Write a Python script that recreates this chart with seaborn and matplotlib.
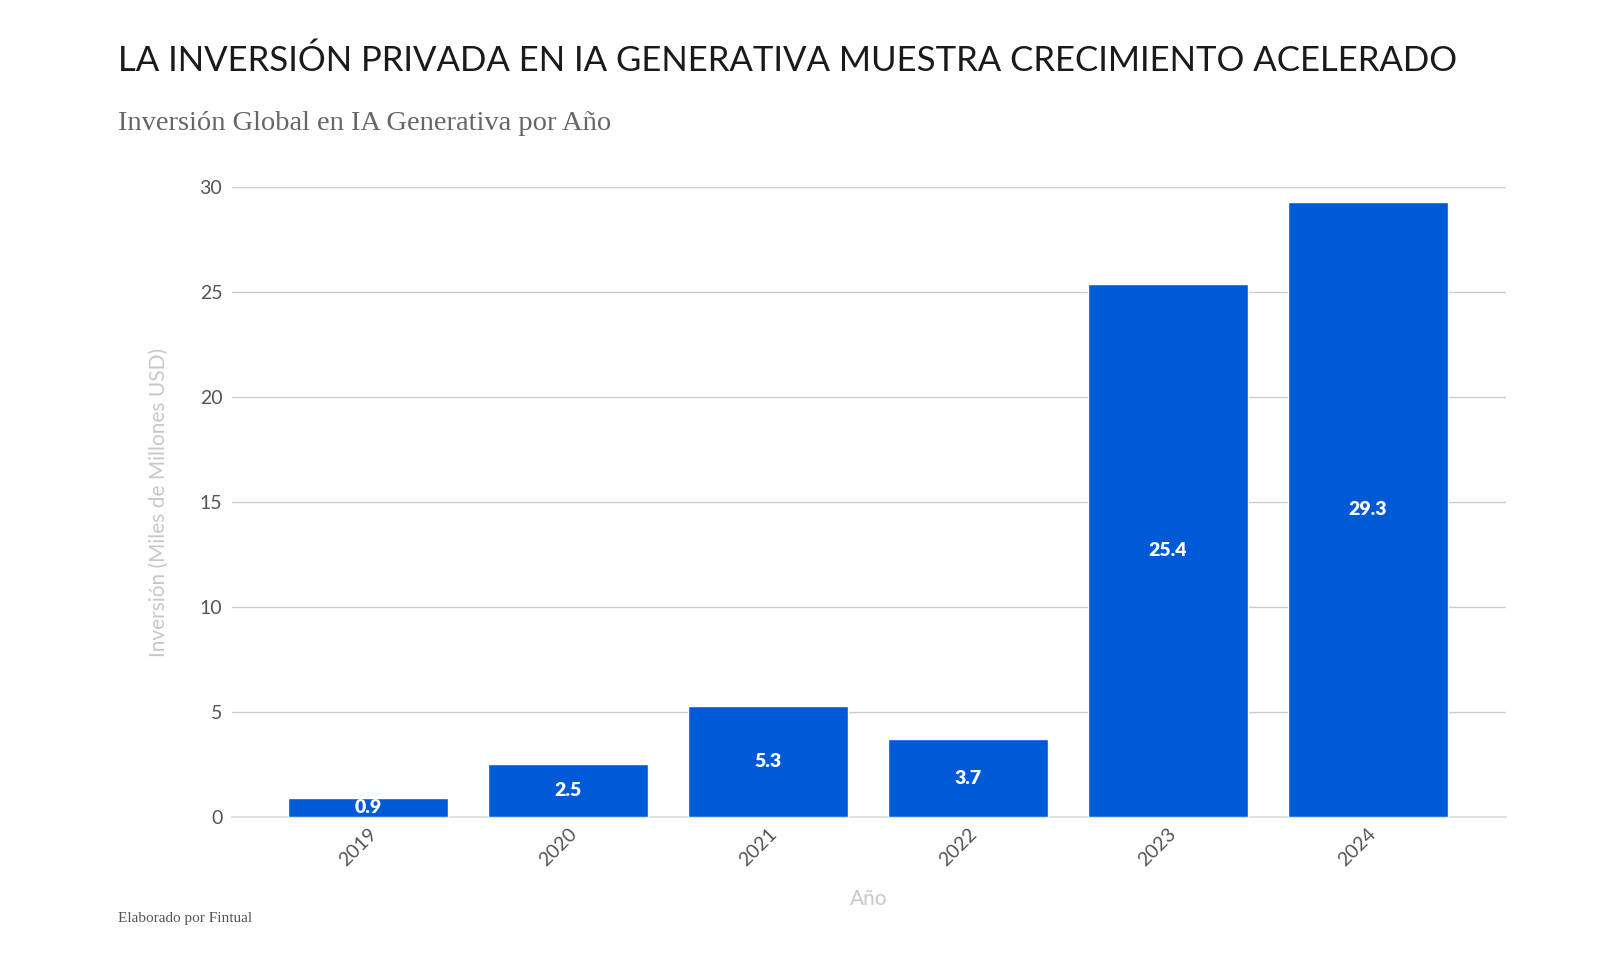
import matplotlib.pyplot as plt
import pandas as pd
import seaborn as sns

# Data
years = ['2019', '2020', '2021', '2022', '2023', '2024']
inversion = [0.9, 2.5, 5.3, 3.7, 25.4, 29.3]
y_ticks = [0, 5, 10, 15, 20, 25, 30]

df = pd.DataFrame({'year': years, 'value': inversion})

sns.set_theme(style='white')
plt.rcParams['font.family'] = ['Lato', 'DejaVu Sans']

fig = plt.figure(figsize=(16, 9.72), dpi=100)
ax = fig.add_axes([0.145, 0.1595, 0.796, 0.648])

bar_color = '#0059d6'
sns.barplot(data=df, x='year', y='value', color=bar_color, width=0.8,
            saturation=1, ax=ax, zorder=3)

ax.set_ylim(0, 30)
ax.set_xlim(-0.68, 5.69)
ax.set_yticks(y_ticks)
ax.yaxis.grid(True, color='#cccccc', linewidth=1, zorder=0)
ax.set_axisbelow(True)
for s in ['top', 'right', 'left']:
  ax.spines[s].set_visible(False)
ax.spines['bottom'].set_color('#dddddd')
ax.tick_params(axis='both', length=0, labelsize=14, colors='#555555')
ax.tick_params(axis='y', pad=7)
ax.tick_params(axis='x', pad=6)
plt.setp(ax.get_xticklabels(), rotation=45, ha='right', rotation_mode='anchor')

ax.set_xlabel('Año', fontsize=15, color='#c8c8c8', labelpad=14)
ax.set_ylabel('Inversión (Miles de Millones USD)', fontsize=15,
              color='#c8c8c8', labelpad=22)

# value labels in the middle of each bar
for i, v in enumerate(inversion):
  ax.text(i, v / 2, f'{v}', ha='center', va='center', color='white',
          fontsize=14, fontweight='heavy')

fig.text(0.074, 0.938, 'LA INVERSIÓN PRIVADA EN IA GENERATIVA MUESTRA CRECIMIENTO ACELERADO',
         fontsize=25, color='#1a1a1a', ha='left', va='center')
fig.text(0.074, 0.873, 'Inversión Global en IA Generativa por Año',
         fontsize=20.5, color='#666666', ha='left', va='center',
         family=['Liberation Serif', 'DejaVu Serif'])
fig.text(0.074, 0.055, 'Elaborado por Fintual', fontsize=11, color='#555555',
         ha='left', va='center', family=['Liberation Serif', 'DejaVu Serif'])

fig.savefig('out.png', dpi=100)
